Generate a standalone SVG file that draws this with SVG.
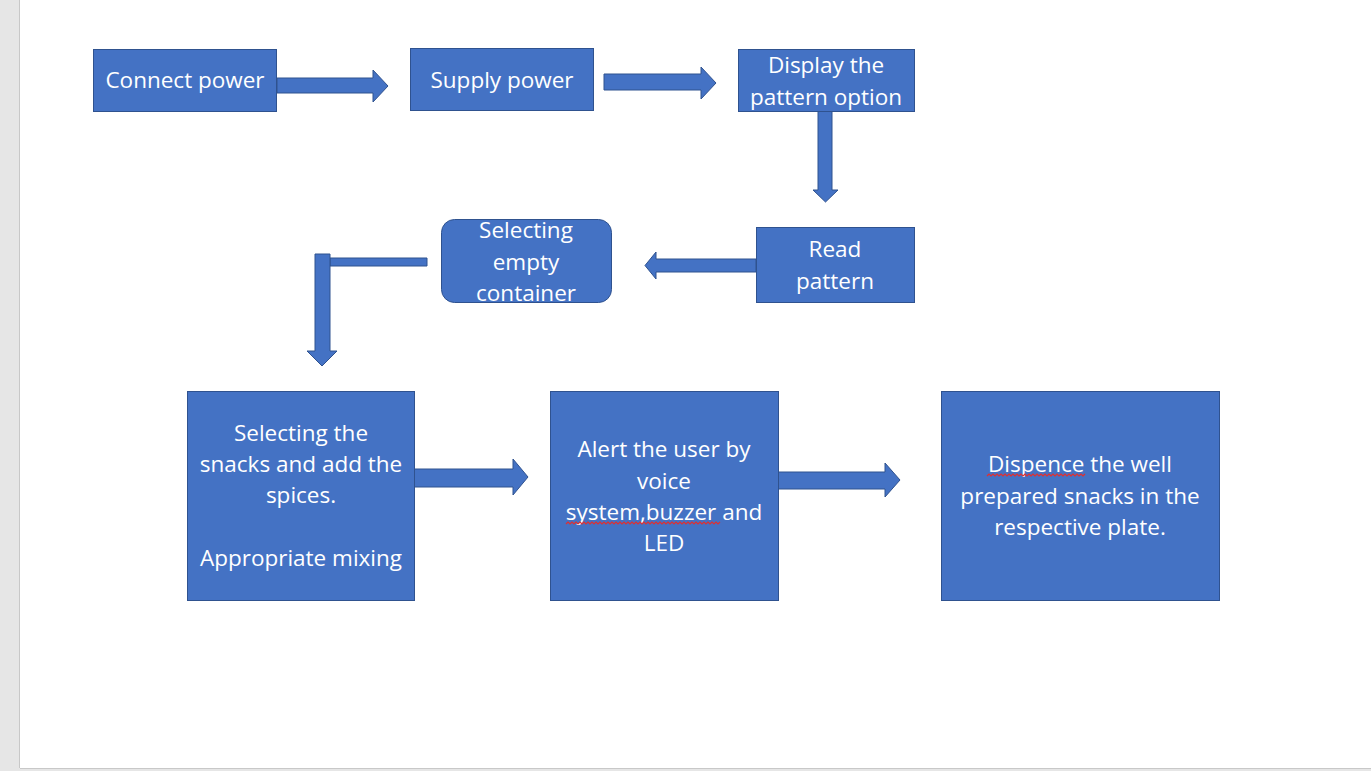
<svg xmlns="http://www.w3.org/2000/svg" width="1371" height="771" viewBox="0 0 1371 771">
<style>
.box{fill:#4472C4;stroke:#2F528F;stroke-width:1}
.arr{fill:#4472C4;stroke:#2F528F;stroke-width:1}
.t{font-family:"Open Sans","Noto Sans",sans-serif;font-size:22.5px;fill:#FFFFFF;text-anchor:middle}
.sq{fill:none;stroke:#E03030;stroke-width:1.2}
</style>
<rect x="0" y="0" width="1371" height="771" fill="#E6E6E6"/>
<rect x="20" y="0" width="1351" height="768" fill="#FFFFFF"/>
<line x1="19.5" y1="0" x2="19.5" y2="768" stroke="#C8C8C8" stroke-width="1"/>
<line x1="20" y1="768.5" x2="1371" y2="768.5" stroke="#C8C8C8" stroke-width="1"/>

<g id="connectors">
  <path class="arr" d="M277,78 H373 V70 L388,86 L373,102 V93 H277 Z"/>
  <path class="arr" d="M604,74 H701 V67 L716,83 L701,99 V90 H604 Z"/>
  <path class="arr" d="M818,111 V190 H813 L825.5,202 L838,190 H832 V111 Z"/>
  <path class="arr" d="M756,259 H656 V252 L645,265.5 L656,279 V272 H756 Z"/>
  <path class="arr" d="M427,258 H330 V266 H427 Z"/>
  <path class="arr" d="M315,254 V351 H307 L322,366 L337,351 H330 V254 Z"/>
  <path class="arr" d="M414,469 H513 V459 L528,477 L513,495 V487 H414 Z"/>
  <path class="arr" d="M778,472 H885 V463 L900,480 L885,497 V489 H778 Z"/>
</g>

<g id="connect-power">
  <rect class="box" x="93.5" y="49.5" width="183" height="62"/>
  <text class="t" x="185" y="88">Connect power</text>
</g>
<g id="supply-power">
  <rect class="box" x="410.5" y="48.5" width="183" height="62"/>
  <text class="t" x="502" y="88">Supply power</text>
</g>
<g id="display-pattern">
  <rect class="box" x="738.5" y="49.5" width="176" height="62"/>
  <text class="t" x="826" y="73">Display the</text>
  <text class="t" x="826" y="105">pattern option</text>
</g>
<g id="read-pattern">
  <rect class="box" x="756.5" y="227.5" width="158" height="75"/>
  <text class="t" x="835" y="257">Read</text>
  <text class="t" x="835" y="289">pattern</text>
</g>
<g id="selecting-container">
  <rect class="box" x="441.5" y="219.5" width="170" height="83" rx="13"/>
  <text class="t" x="526" y="238">Selecting</text>
  <text class="t" x="526" y="270">empty</text>
  <text class="t" x="526" y="301">container</text>
</g>
<g id="selecting-snacks">
  <rect class="box" x="187.5" y="391.5" width="227" height="209"/>
  <text class="t" x="301" y="441">Selecting the</text>
  <text class="t" x="301" y="472">snacks and add the</text>
  <text class="t" x="301" y="503">spices.</text>
  <text class="t" x="301" y="566">Appropriate mixing</text>
</g>
<g id="alert-user">
  <rect class="box" x="550.5" y="391.5" width="228" height="209"/>
  <text class="t" x="664" y="457">Alert the user by</text>
  <text class="t" x="664" y="489">voice</text>
  <text class="t" x="664" y="520">system,buzzer and</text>
  <text class="t" x="664" y="551">LED</text>
  <path class="sq" d="M566,524 l2,-2 l2,2 l2,-2 l2,2 l2,-2 l2,2 l2,-2 l2,2 l2,-2 l2,2 l2,-2 l2,2 l2,-2 l2,2 l2,-2 l2,2 l2,-2 l2,2 l2,-2 l2,2 l2,-2 l2,2 l2,-2 l2,2 l2,-2 l2,2 l2,-2 l2,2 l2,-2 l2,2 l2,-2 l2,2 l2,-2 l2,2 l2,-2 l2,2 l2,-2 l2,2 l2,-2 l2,2 l2,-2 l2,2 l2,-2 l2,2 l2,-2 l2,2 l2,-2 l2,2 l2,-2 l2,2 l2,-2 l2,2 l2,-2 l2,2 l2,-2 l2,2 l2,-2 l2,2 l2,-2 l2,2 l2,-2 l2,2 l2,-2 l2,2 l2,-2 l2,2 l2,-2 l2,2 l2,-2 l2,2 l2,-2 l2,2 l2,-2 l2,2 l2,-2 l2,2 l2,-2"/>
</g>
<g id="dispence">
  <rect class="box" x="941.5" y="391.5" width="278" height="209"/>
  <text class="t" x="1080" y="472">Dispence the well</text>
  <text class="t" x="1080" y="504">prepared snacks in the</text>
  <text class="t" x="1080" y="535">respective plate.</text>
  <path class="sq" d="M987,476 l2,-2 l2,2 l2,-2 l2,2 l2,-2 l2,2 l2,-2 l2,2 l2,-2 l2,2 l2,-2 l2,2 l2,-2 l2,2 l2,-2 l2,2 l2,-2 l2,2 l2,-2 l2,2 l2,-2 l2,2 l2,-2 l2,2 l2,-2 l2,2 l2,-2 l2,2 l2,-2 l2,2 l2,-2 l2,2 l2,-2 l2,2 l2,-2 l2,2 l2,-2 l2,2 l2,-2 l2,2 l2,-2 l2,2 l2,-2 l2,2 l2,-2 l2,2 l2,-2 l2,2 l2,-2"/>
</g>
</svg>
